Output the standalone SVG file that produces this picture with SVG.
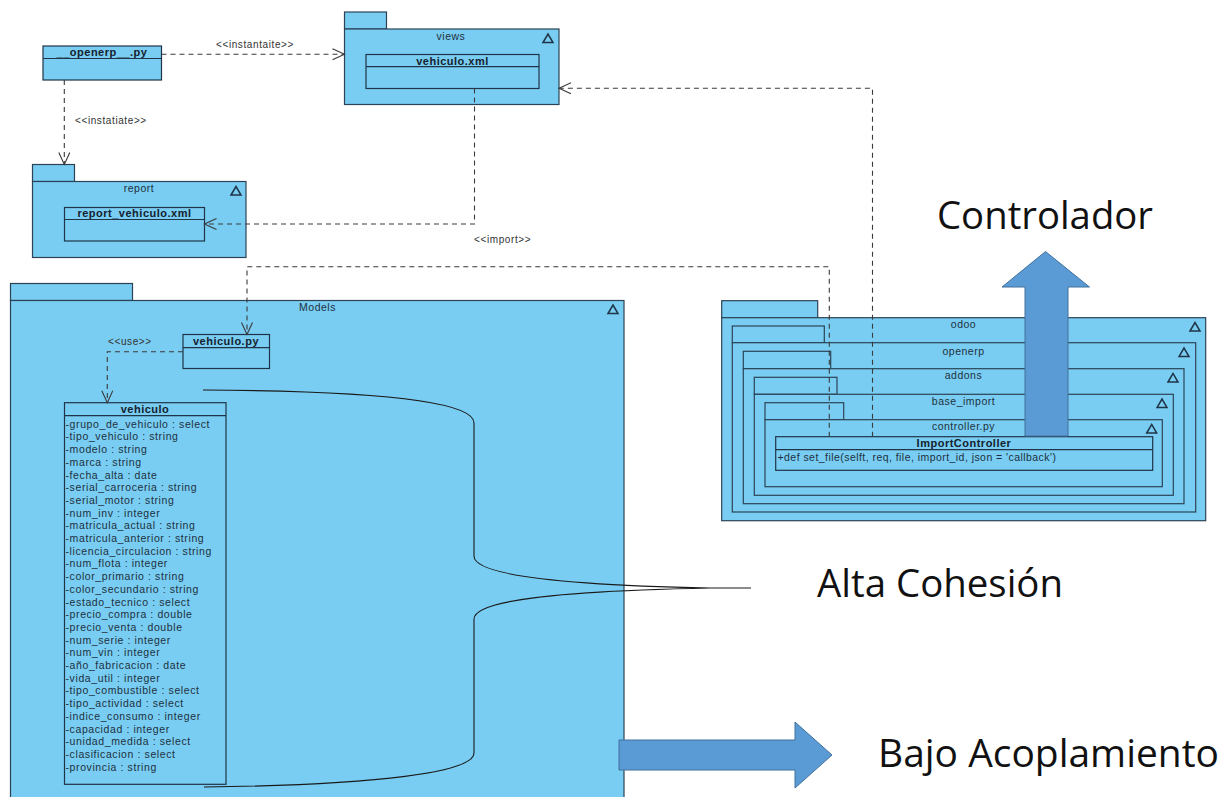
<svg xmlns="http://www.w3.org/2000/svg" width="1227" height="797" viewBox="0 0 1227 797">
  <defs>
    <style>
      .pkg { fill:#79cdf2; stroke:#2c4356; stroke-width:1.2; }
      .cls { fill:#79cdf2; stroke:#1f3447; stroke-width:1.2; }
      .sep { stroke:#1f3447; stroke-width:1.2; }
      .tri { fill:none; stroke:#1f3447; stroke-width:1.5; stroke-linejoin:miter; }
      .lbl { font-family:"Liberation Sans", Arial, sans-serif; font-size:10.5px; fill:#1e3040; letter-spacing:0.5px; }
      .pname { text-anchor:middle; }
      .title { font-family:"Liberation Sans", Arial, sans-serif; font-size:11px; font-weight:bold; fill:#14222e; text-anchor:middle; letter-spacing:0.5px; }
      .attr { font-family:"Liberation Sans", Arial, sans-serif; font-size:10.5px; fill:#1e3040; letter-spacing:0.6px; }
      .stereo { font-family:"Liberation Sans", Arial, sans-serif; font-size:10px; fill:#333; letter-spacing:0.6px; }
      .dep { fill:none; stroke:#3a3a3a; stroke-width:1.1; stroke-dasharray:5 4; }
      .brace { fill:none; stroke:#1a1a1a; stroke-width:1.1; }
      .block { fill:#5b9bd5; stroke:#41719c; stroke-width:1; }
      .big { font-family:"Open Sans", "Noto Sans", sans-serif; font-size:38px; fill:#111; }
    </style>
    <marker id="open" markerUnits="userSpaceOnUse" markerWidth="16" markerHeight="14" refX="13" refY="6" orient="auto">
      <path d="M1,0.5 L13,6 L1,11.5" fill="none" stroke="#3a3a3a" stroke-width="1.1"/>
    </marker>
  </defs>

  <rect width="1227" height="797" fill="#ffffff"/>

  <!-- __openerp__.py -->
  <g id="openerp-py">
    <rect class="cls" x="43" y="46" width="118.5" height="34"/>
    <line class="sep" x1="43" y1="58.5" x2="161.5" y2="58.5"/>
    <text class="title" x="102" y="56">__openerp__.py</text>
  </g>

  <!-- views package -->
  <g id="views">
    <rect class="pkg" x="344.5" y="12" width="42" height="17"/>
    <rect class="pkg" x="344.5" y="29" width="214.5" height="75.5"/>
    <text class="lbl pname" x="451" y="39.5">views</text>
    <polygon class="tri" points="543,42.5 548,34 553,42.5"/>
    <g id="vehiculo-xml">
      <rect class="cls" x="366" y="54.5" width="173" height="34"/>
      <line class="sep" x1="366" y1="66.7" x2="539" y2="66.7"/>
      <text class="title" x="452.5" y="64.5">vehiculo.xml</text>
    </g>
  </g>

  <!-- report package -->
  <g id="report">
    <rect class="pkg" x="32.5" y="164.5" width="42" height="17"/>
    <rect class="pkg" x="32.5" y="181.5" width="213.5" height="76"/>
    <text class="lbl pname" x="139" y="192">report</text>
    <polygon class="tri" points="231,195 236,186.5 241,195"/>
    <g id="report-vehiculo-xml">
      <rect class="cls" x="64.5" y="207.5" width="140" height="33.5"/>
      <line class="sep" x1="64.5" y1="219.5" x2="204.5" y2="219.5"/>
      <text class="title" x="134.5" y="217.3">report_vehiculo.xml</text>
    </g>
  </g>

  <!-- Models package -->
  <g id="models">
    <rect class="pkg" x="10.5" y="283.5" width="122" height="17"/>
    <rect class="pkg" x="10.5" y="300.5" width="613.5" height="510"/>
    <text class="lbl pname" x="317.5" y="311">Models</text>
    <polygon class="tri" points="608,313.5 613,305 618,313.5"/>

    <g id="vehiculo-py">
      <rect class="cls" x="183" y="334.5" width="86.5" height="34"/>
      <line class="sep" x1="183" y1="347.7" x2="269.5" y2="347.7"/>
      <text class="title" x="226" y="345">vehiculo.py</text>
    </g>

    <g id="vehiculo">
      <rect class="cls" x="64.5" y="402.7" width="161.5" height="381.6"/>
      <line class="sep" x1="64.5" y1="415.7" x2="226" y2="415.7"/>
      <text class="title" x="145" y="413">vehiculo</text>
      <text class="attr" x="65.5" y="427.7">-grupo_de_vehiculo : select</text>
      <text class="attr" x="65.5" y="440.4">-tipo_vehiculo : string</text>
      <text class="attr" x="65.5" y="453.1">-modelo : string</text>
      <text class="attr" x="65.5" y="465.8">-marca : string</text>
      <text class="attr" x="65.5" y="478.5">-fecha_alta : date</text>
      <text class="attr" x="65.5" y="491.2">-serial_carroceria : string</text>
      <text class="attr" x="65.5" y="503.9">-serial_motor : string</text>
      <text class="attr" x="65.5" y="516.6">-num_inv : integer</text>
      <text class="attr" x="65.5" y="529.3">-matricula_actual : string</text>
      <text class="attr" x="65.5" y="542.0">-matricula_anterior : string</text>
      <text class="attr" x="65.5" y="554.7">-licencia_circulacion : string</text>
      <text class="attr" x="65.5" y="567.4">-num_flota : integer</text>
      <text class="attr" x="65.5" y="580.1">-color_primario : string</text>
      <text class="attr" x="65.5" y="592.8">-color_secundario : string</text>
      <text class="attr" x="65.5" y="605.5">-estado_tecnico : select</text>
      <text class="attr" x="65.5" y="618.2">-precio_compra : double</text>
      <text class="attr" x="65.5" y="630.9">-precio_venta : double</text>
      <text class="attr" x="65.5" y="643.6">-num_serie : integer</text>
      <text class="attr" x="65.5" y="656.3">-num_vin : integer</text>
      <text class="attr" x="65.5" y="669.0">-año_fabricacion : date</text>
      <text class="attr" x="65.5" y="681.7">-vida_util : integer</text>
      <text class="attr" x="65.5" y="694.4">-tipo_combustible : select</text>
      <text class="attr" x="65.5" y="707.1">-tipo_actividad : select</text>
      <text class="attr" x="65.5" y="719.8">-indice_consumo : integer</text>
      <text class="attr" x="65.5" y="732.5">-capacidad : integer</text>
      <text class="attr" x="65.5" y="745.2">-unidad_medida : select</text>
      <text class="attr" x="65.5" y="757.9">-clasificacion : select</text>
      <text class="attr" x="65.5" y="770.6">-provincia : string</text>
    </g>
  </g>

  <!-- odoo / openerp / addons / base_import / controller.py nested packages -->
  <g id="odoo">
    <rect class="pkg" x="721.7" y="300.7" width="96" height="17"/>
    <rect class="pkg" x="721.7" y="317.7" width="484" height="203"/>
    <text class="lbl pname" x="963.5" y="328">odoo</text>
    <polygon class="tri" points="1190,331 1195,322.5 1200,331"/>
  </g>
  <g id="openerp">
    <rect class="pkg" x="732.3" y="326" width="92" height="16.7"/>
    <rect class="pkg" x="732.3" y="342.7" width="463.4" height="169.3"/>
    <text class="lbl pname" x="963.5" y="354.7">openerp</text>
    <polygon class="tri" points="1179,356.6 1184,348 1189,356.6"/>
  </g>
  <g id="addons">
    <rect class="pkg" x="743.3" y="351.3" width="87.4" height="17.4"/>
    <rect class="pkg" x="743.3" y="368.7" width="440.7" height="135"/>
    <text class="lbl pname" x="963.5" y="379.4">addons</text>
    <polygon class="tri" points="1168,382 1173,373.4 1178,382"/>
  </g>
  <g id="base_import">
    <rect class="pkg" x="754.3" y="377.3" width="82.7" height="17"/>
    <rect class="pkg" x="754.3" y="394.3" width="419" height="101"/>
    <text class="lbl pname" x="963.5" y="404.7">base_import</text>
    <polygon class="tri" points="1157,407.6 1162,399 1167,407.6"/>
  </g>
  <g id="controller-py">
    <rect class="pkg" x="765" y="402.7" width="78.7" height="17"/>
    <rect class="pkg" x="765" y="419.7" width="397.3" height="67"/>
    <text class="lbl pname" x="963.5" y="430.4">controller.py</text>
    <polygon class="tri" points="1146.7,433 1151.7,424.4 1156.7,433"/>
    <g id="ImportController">
      <rect class="cls" x="775.7" y="436.7" width="377" height="33.6"/>
      <line class="sep" x1="775.7" y1="449.7" x2="1152.7" y2="449.7"/>
      <text class="title" x="964" y="447.3">ImportController</text>
      <text class="attr" x="777.5" y="461.4" style="letter-spacing:0.45px">+def set_file(selft, req, file, import_id, json = 'callback')</text>
    </g>
  </g>

  <!-- dependency connectors -->
  <g id="connectors">
    <path class="dep" d="M161.5,54.3 L344.5,54.3" marker-end="url(#open)"/>
    <text class="stereo" x="216" y="47.5">&lt;&lt;instantaite&gt;&gt;</text>

    <path class="dep" d="M64.3,80 L64.3,164.5" marker-end="url(#open)"/>
    <text class="stereo" x="75" y="124">&lt;&lt;instatiate&gt;&gt;</text>

    <path class="dep" d="M474.5,88.5 L474.5,224 L204.5,224" marker-end="url(#open)"/>
    <text class="stereo" x="474" y="243">&lt;&lt;import&gt;&gt;</text>

    <path class="dep" d="M872.5,436.7 L872.5,88.3 L559,88.3" marker-end="url(#open)"/>

    <path class="dep" d="M829.3,436.7 L829.3,266.7 L247,266.7 L247,334.5" marker-end="url(#open)"/>

    <path class="dep" d="M183,351.7 L107.3,351.7 L107.3,402.7" marker-end="url(#open)"/>
    <text class="stereo" x="108" y="345">&lt;&lt;use&gt;&gt;</text>
  </g>

  <!-- brace grouping the model attributes -->
  <path class="brace" d="M203,390 C380,391 474,402 474,423 L474,556 C474,575 560,585 710,588 L751,588 M710,588 C560,591 474,600 474,619 L474,753 C474,772 380,785 204,787"/>

  <!-- block arrows and annotations -->
  <polygon id="arrow-controlador" class="block" points="1025,436 1025,287 1002,287 1045.5,251.5 1089.5,287 1068,287 1068,436"/>
  <text class="big" x="937" y="229" textLength="216" lengthAdjust="spacingAndGlyphs">Controlador</text>

  <text class="big" x="817" y="597" textLength="246" lengthAdjust="spacingAndGlyphs">Alta Cohesión</text>

  <polygon id="arrow-acoplamiento" class="block" points="619,740 795,740 795,722 832,755 795,788 795,770 619,770"/>
  <text class="big" x="878" y="767" textLength="341" lengthAdjust="spacingAndGlyphs">Bajo Acoplamiento</text>
</svg>
